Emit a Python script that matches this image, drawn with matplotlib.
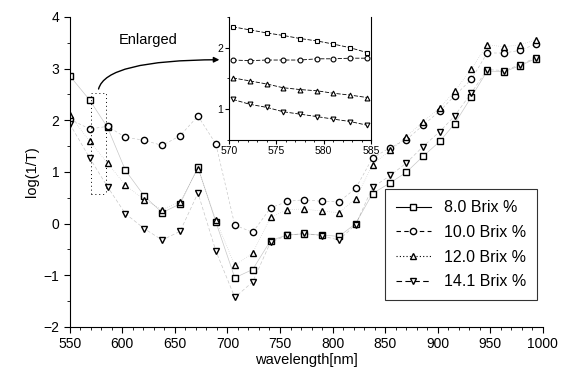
import matplotlib
matplotlib.use("Agg")
import matplotlib.pyplot as plt
from matplotlib.ticker import MultipleLocator

plt.rcParams['font.family'] = ['Liberation Sans', 'DejaVu Sans']

# main spectrum (every ~17 nm)
wavelength = [550, 569, 586, 603, 621, 638, 655, 672, 689, 707, 724, 741, 757, 773,
              790, 806, 822, 838, 855, 870, 886, 902, 916, 932, 947, 963, 978, 993]
brix_80 = [2.86, 2.39, 1.86, 1.03, 0.53, 0.21, 0.38, 1.09, 0.03, -1.05, -0.89, -0.33, -0.22, -0.20,
           -0.22, -0.25, 0.00, 0.58, 0.79, 0.99, 1.30, 1.59, 1.93, 2.45, 2.95, 2.94, 3.05, 3.19]
brix_100 = [2.02, 1.83, 1.88, 1.67, 1.61, 1.51, 1.70, 2.08, 1.54, -0.03, -0.17, 0.30, 0.43, 0.46,
            0.43, 0.42, 0.68, 1.27, 1.47, 1.62, 1.90, 2.18, 2.47, 2.79, 3.30, 3.30, 3.35, 3.47]
brix_120 = [2.10, 1.59, 1.17, 0.74, 0.46, 0.27, 0.42, 1.06, 0.07, -0.81, -0.57, 0.12, 0.27, 0.28,
            0.24, 0.21, 0.48, 1.14, 1.42, 1.68, 1.97, 2.24, 2.56, 2.99, 3.46, 3.42, 3.46, 3.55]
brix_141 = [1.93, 1.27, 0.71, 0.19, -0.10, -0.32, -0.15, 0.59, -0.53, -1.43, -1.13, -0.36, -0.23, -0.19,
            -0.24, -0.32, -0.02, 0.70, 0.93, 1.17, 1.49, 1.78, 2.08, 2.53, 2.98, 2.96, 3.07, 3.21]

# enlarged region 570-585 nm
wl_zoom = [570.4, 572.2, 574.0, 575.7, 577.5, 579.3, 581.0, 582.8, 584.6]
zoom_80 = [2.34, 2.29, 2.24, 2.20, 2.15, 2.11, 2.06, 2.00, 1.92]
zoom_100 = [1.80, 1.79, 1.80, 1.80, 1.80, 1.82, 1.82, 1.83, 1.83]
zoom_120 = [1.51, 1.46, 1.41, 1.35, 1.32, 1.30, 1.26, 1.23, 1.19]
zoom_141 = [1.16, 1.08, 1.03, 0.96, 0.92, 0.88, 0.84, 0.80, 0.74]

labels = ['8.0 Brix %', '10.0 Brix %', '12.0 Brix %', '14.1 Brix %']
markers = ['s', 'o', '^', 'v']
styles = ['-', (0, (4, 3)), (0, (1, 2)), (0, (5, 3))]

fig = plt.figure(figsize=(5.62, 3.74), dpi=100)
ax = fig.add_axes([0.124, 0.126, 0.842, 0.829])

main_series = [brix_80, brix_100, brix_120, brix_141]
for ys, m, ls, lab in zip(main_series, markers, styles, labels):
    # faint connecting lines (mostly lost in the scanned original)
    ax.plot(wavelength, ys, color='black', lw=0.5, ls=ls, alpha=0.22)
    ax.plot(wavelength, ys, ls='none', marker=m, ms=4.5, mfc='white',
            mec='black', mew=1.0)
    ax.plot([], [], color='black', lw=0.8, ls=ls, marker=m, ms=4.5,
            mfc='white', mec='black', mew=1.0, label=lab)

ax.set_xlim(550, 1000)
ax.set_ylim(-2, 4)
ax.xaxis.set_major_locator(MultipleLocator(50))
ax.xaxis.set_minor_locator(MultipleLocator(10))
ax.yaxis.set_major_locator(MultipleLocator(1))
ax.yaxis.set_minor_locator(MultipleLocator(0.5))
ax.spines['top'].set_visible(False)
ax.spines['right'].set_visible(False)
ax.tick_params(which='major', direction='out', length=4, labelsize=10)
ax.tick_params(which='minor', direction='out', length=2)
ax.set_xlabel('wavelength[nm]', fontsize=10.5, labelpad=1)
ax.set_ylabel('log(1/T)', fontsize=10.5, labelpad=3)

# dotted box marking the enlarged range
ax.plot([570, 570, 585, 585], [0.58, 2.52, 2.52, 0.58], color='black', lw=0.7,
        ls=(0, (1, 3)))
ax.plot([570, 585], [0.58, 0.58], color='black', lw=0.7, ls=(0, (1, 3)))

ax.text(625, 3.55, 'Enlarged', fontsize=10.5, ha='center', va='center')
ax.annotate('', xy=(695, 3.17), xytext=(577, 2.55),
            arrowprops=dict(arrowstyle='-|>', color='black', lw=1.0,
                            mutation_scale=8,
                            connectionstyle='angle3,angleA=85,angleB=0'))

leg = ax.legend(loc='lower right', bbox_to_anchor=(1.005, 0.06), fontsize=11.5,
                frameon=True, fancybox=False, edgecolor='black',
                borderpad=0.7, labelspacing=0.6, handlelength=2.2,
                numpoints=1)
leg.get_frame().set_linewidth(0.8)

# inset
ins = fig.add_axes([0.4075, 0.6257, 0.2527, 0.3289])
zoom_series = [zoom_80, zoom_100, zoom_120, zoom_141]
for ys, m in zip(zoom_series, markers):
    ins.plot(wl_zoom, ys, color='black', lw=0.6, ls=(0, (5, 2)), marker=m,
             ms=3.5, mfc='white', mec='black', mew=0.8, clip_on=False)
ins.set_xlim(570, 585)
ins.set_ylim(0.5, 2.5)
ins.xaxis.set_major_locator(MultipleLocator(5))
ins.xaxis.set_minor_locator(MultipleLocator(1))
ins.yaxis.set_major_locator(MultipleLocator(1))
ins.yaxis.set_minor_locator(MultipleLocator(0.5))
ins.spines['top'].set_visible(False)
ins.tick_params(which='major', direction='out', length=3, labelsize=7.5, pad=1)
ins.tick_params(which='minor', direction='out', length=1.5)
ins.patch.set_alpha(0)

fig.savefig('out.png', dpi=100)
